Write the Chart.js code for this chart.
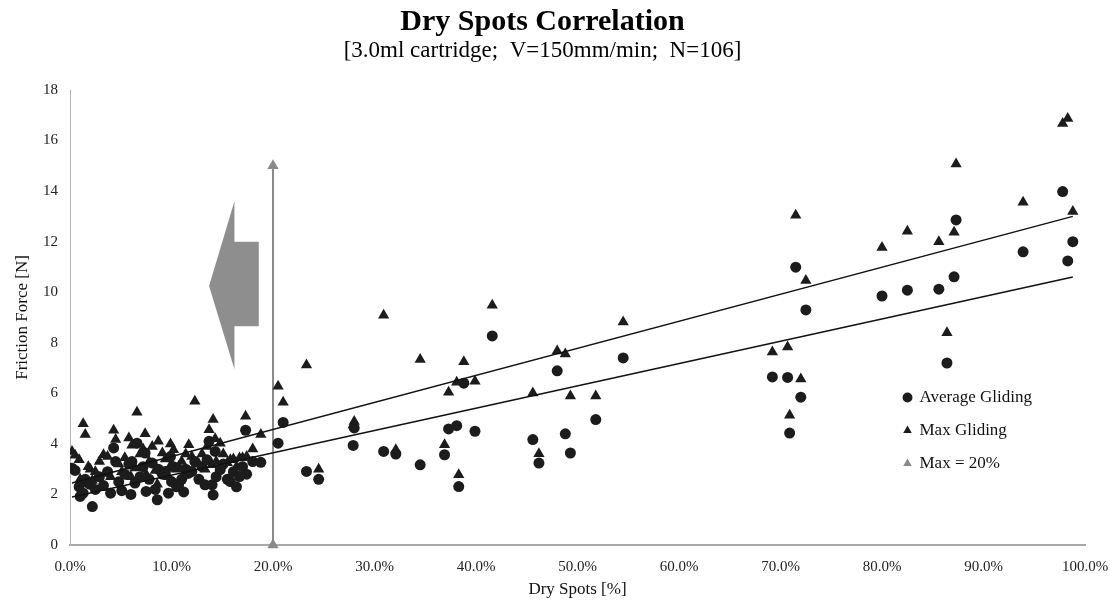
<!DOCTYPE html>
<html>
<head>
<meta charset="utf-8">
<script src="https://cdn.jsdelivr.net/npm/chart.js@4/dist/chart.umd.min.js"></script>
<style>
  html, body { margin: 0; padding: 0; background: #ffffff; }
  #wrap { width: 1110px; height: 614px; }
</style>
</head>
<body>
<div id="wrap"><canvas id="c" width="1110" height="614"></canvas></div>
<script>
// ---- Data ----
const dryPct = [
  0.2, 0.5, 0.9, 1.0, 1.3, 1.5, 1.8, 2.0, 2.2, 2.5, 2.9, 3.3, 3.7, 4.0, 4.3, 4.5, 4.8, 5.1, 5.4, 5.8,
  6.0, 6.1, 6.4, 6.6, 6.9, 7.2, 7.4, 7.5, 7.8, 8.1, 8.4, 8.6, 8.7, 9.1, 9.4, 9.7, 9.9, 10.0, 10.2, 10.5,
  10.7, 11.0, 11.2, 11.4, 11.7, 12.0, 12.3, 12.7, 13.0, 13.3, 13.5, 13.7, 14.0, 14.1, 14.3, 14.4, 14.8, 15.1, 15.5, 15.8,
  16.1, 16.4, 16.7, 17.0, 17.3, 17.4, 18.0, 18.8,
  20.5, 21.0, 23.3, 24.5, 27.9, 28.0, 30.9, 32.1, 34.5, 36.9, 37.3, 38.1, 38.3, 38.8, 39.9, 41.6,
  45.6, 46.2, 48.0, 48.8, 49.3, 51.8, 54.5, 69.2, 70.7, 70.9, 71.5, 72.0, 72.5, 80.0, 82.5, 85.6,
  86.4, 87.1, 87.3, 93.9, 97.8, 98.3, 98.8
];
const avgGliding = [
  3.04, 2.95, 2.30, 1.92, 2.05, 2.60, 2.45, 2.40, 1.52, 2.20, 2.70, 2.35, 2.90, 2.05, 3.84, 3.30, 2.50, 2.15, 2.80, 3.20,
  2.00, 3.30, 2.45, 4.03, 2.70, 3.10, 3.64, 2.12, 2.60, 3.24, 2.20, 1.79, 3.00, 2.80, 2.91, 2.05, 3.50, 2.51, 3.10, 2.30,
  2.38, 2.60, 2.10, 3.00, 2.84, 2.91, 3.30, 2.60, 3.10, 2.38, 3.37, 4.10, 2.38, 1.98, 3.70, 2.70, 2.98, 3.20, 2.60, 2.51,
  2.90, 2.30, 2.71, 3.10, 4.54, 2.80, 3.30, 3.27,
  4.03, 4.85, 2.91, 2.60, 3.94, 4.63, 3.70, 3.60, 3.17, 3.57, 4.59, 4.72, 2.31, 6.40, 4.50, 8.27,
  4.17, 3.24, 6.89, 4.40, 3.64, 4.96, 7.40, 6.65, 6.63, 4.43, 10.99, 5.85, 9.30, 9.85, 10.08, 10.12,
  7.20, 10.61, 12.86, 11.60, 13.98, 11.24, 12.00
];
const maxGliding = [
  3.70, 3.55, 3.37, 2.60, 4.80, 4.37, 3.10, 3.00, 2.55, 2.90, 3.30, 3.57, 3.50, 2.70, 4.54, 4.17, 3.20, 2.90, 3.45, 4.23,
  2.70, 3.95, 3.05, 5.25, 3.60, 3.80, 4.40, 2.80, 3.30, 3.90, 2.95, 2.40, 4.10, 3.64, 3.40, 2.70, 4.00, 3.20, 3.77, 3.00,
  3.11, 3.30, 2.75, 3.60, 3.97, 3.50, 5.69, 3.20, 3.60, 3.00, 3.90, 4.56, 3.17, 4.96, 4.20, 3.30, 4.03, 3.60, 3.25, 3.37,
  3.40, 3.10, 3.44, 3.45, 5.09, 3.50, 3.80, 4.37,
  6.28, 5.65, 7.12, 3.00, 4.75, 4.89, 9.09, 3.77, 7.34, 3.97, 6.04, 6.44, 2.78, 7.25, 6.48, 9.48,
  6.01, 3.61, 7.67, 7.56, 5.89, 5.89, 8.82, 7.64, 7.83, 5.13, 13.05, 6.57, 10.46, 11.77, 12.41, 12.00,
  8.40, 12.37, 15.07, 13.56, 16.67, 16.87, 13.19
];
// 20% limit marker line
const limitX = [20, 20];
const limitY = [0, 15];
// Linear trend lines (end points)
const trendX = [0.2, 98.8];
const avgTrendY = [1.9, 10.6];
const maxTrendY = [2.45, 13.0];
// Axis tick settings
const xTicks = { min: 0, max: 100, step: 10 };
const yTicks = { min: 0, max: 18, step: 2 };

const SERIF = "'Liberation Serif', 'Times New Roman', serif";
const toPts = (xs, ys) => xs.map((x, i) => ({ x: x, y: ys[i] }));

// Grey arrow annotation (data units) drawn under the points
const arrowPlugin = {
  id: 'arrow',
  beforeDatasetsDraw(chart) {
    const sx = chart.scales.x, sy = chart.scales.y, ctx = chart.ctx;
    const shape = [[13.7, 10.25], [16.2, 13.6], [16.2, 12.0], [18.6, 12.0], [18.6, 8.65], [16.2, 8.65], [16.2, 6.95]];
    ctx.save();
    ctx.beginPath();
    shape.forEach((p, i) => {
      const px = sx.getPixelForValue(p[0]), py = sy.getPixelForValue(p[1]);
      if (i === 0) ctx.moveTo(px, py); else ctx.lineTo(px, py);
    });
    ctx.closePath();
    ctx.fillStyle = '#8e8e8e';
    ctx.fill();
    ctx.restore();
  }
};

// Put the legend inside the plot, lower right
const legendPlacer = {
  id: 'legendPlacer',
  afterLayout(chart) {
    const lg = chart.legend;
    if (!lg) return;
    const w = lg.width, h = lg.height;
    lg.left = chart.chartArea.right - 197;
    lg.top = chart.chartArea.top + 283;
    lg.right = lg.left + w;
    lg.bottom = lg.top + h;
  }
};

new Chart(document.getElementById('c'), {
  type: 'scatter',
  data: {
    datasets: [
      {
        label: 'Average Gliding',
        data: toPts(dryPct, avgGliding),
        pointStyle: 'circle',
        pointRadius: 5.5,
        pointHoverRadius: 5.5,
        backgroundColor: '#1c1c1c',
        borderColor: '#1c1c1c',
        borderWidth: 0,
        order: 2
      },
      {
        label: 'Max Gliding',
        data: toPts(dryPct, maxGliding),
        pointStyle: 'triangle',
        pointRadius: 6.5,
        pointHoverRadius: 6.5,
        backgroundColor: '#1c1c1c',
        borderColor: '#1c1c1c',
        borderWidth: 0,
        order: 1
      },
      {
        label: 'Max = 20%',
        data: toPts(limitX, limitY),
        showLine: true,
        clip: false,
        pointStyle: 'triangle',
        pointRadius: 6.5,
        pointHoverRadius: 6.5,
        pointBackgroundColor: '#8a8a8a',
        pointBorderColor: '#8a8a8a',
        pointBorderWidth: 0,
        backgroundColor: '#8a8a8a',
        borderColor: '#8a8a8a',
        borderWidth: 2,
        order: 3
      },
      {
        label: 'avgTrend',
        data: toPts(trendX, avgTrendY),
        showLine: true,
        pointRadius: 0,
        borderColor: '#111111',
        borderWidth: 1.5,
        order: 0
      },
      {
        label: 'maxTrend',
        data: toPts(trendX, maxTrendY),
        showLine: true,
        pointRadius: 0,
        borderColor: '#111111',
        borderWidth: 1.5,
        order: 0
      }
    ]
  },
  options: {
    responsive: false,
    animation: false,
    devicePixelRatio: 1,
    layout: { padding: { left: 0, right: 25, top: 0, bottom: 0 } },
    plugins: {
      title: {
        display: true,
        text: 'Dry Spots Correlation',
        color: '#000',
        font: { family: SERIF, size: 30, weight: 'bold', lineHeight: 1.0 },
        padding: { top: 7, bottom: 0 }
      },
      subtitle: {
        display: true,
        text: '[3.0ml cartridge;  V=150mm/min;  N=106]',
        color: '#000',
        font: { family: SERIF, size: 23, weight: 'normal', lineHeight: 1.2 },
        padding: { top: 0, bottom: 25.4 }
      },
      legend: {
        display: true,
        position: 'chartArea',
        align: 'start',
        labels: {
          usePointStyle: true,
          boxWidth: 7,
          boxHeight: 7,
          padding: 16,
          color: '#111',
          font: { family: SERIF, size: 17 },
          sort: (a, b) => a.datasetIndex - b.datasetIndex,
          filter: (item) => item.text !== 'avgTrend' && item.text !== 'maxTrend'
        }
      },
      tooltip: { enabled: false }
    },
    scales: {
      x: {
        type: 'linear',
        min: xTicks.min,
        max: xTicks.max,
        afterFit: (s) => { s.height = 69; s.paddingRight = 0; s.paddingLeft = 0; },
        ticks: {
          stepSize: xTicks.step,
          color: '#222',
          padding: 13,
          font: { family: SERIF, size: 15 },
          callback: (v) => v.toFixed(1) + '%'
        },
        grid: { display: false, drawTicks: false },
        border: { display: true, color: '#a8a8a8', width: 2 },
        title: {
          display: true,
          text: 'Dry Spots [%]',
          color: '#111',
          font: { family: SERIF, size: 17 },
          padding: { top: 0, bottom: 14 }
        }
      },
      y: {
        type: 'linear',
        min: yTicks.min,
        max: yTicks.max,
        afterFit: (s) => { s.width = 70; },
        ticks: {
          stepSize: yTicks.step,
          color: '#222',
          padding: 12,
          font: { family: SERIF, size: 15 }
        },
        grid: { display: false, drawTicks: false },
        border: { display: true, color: '#b4b4b4', width: 1 },
        title: {
          display: true,
          text: 'Friction Force [N]',
          color: '#111',
          font: { family: SERIF, size: 17 },
          padding: { top: 12, bottom: 0 }
        }
      }
    }
  },
  plugins: [arrowPlugin, legendPlacer]
});
</script>
</body>
</html>
